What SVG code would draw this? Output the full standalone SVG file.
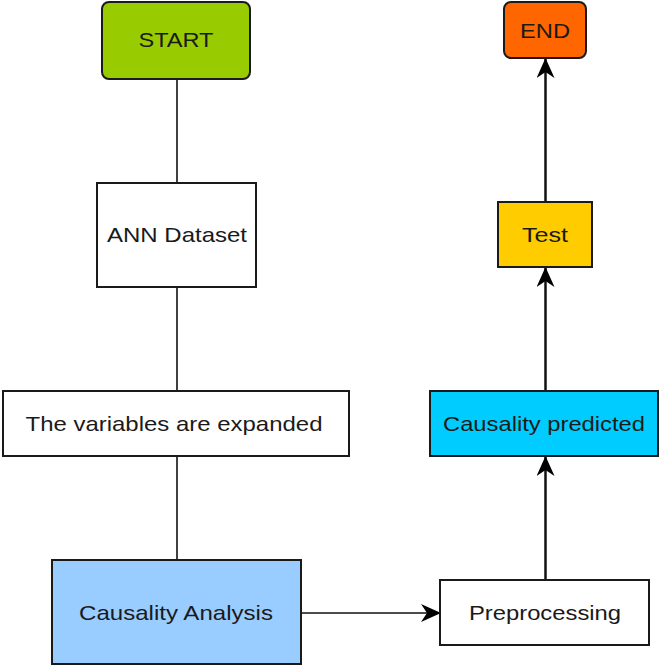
<svg xmlns="http://www.w3.org/2000/svg" width="661" height="667" viewBox="0 0 661 667">
<defs>
<style>
.box{stroke:#1a1a1a;stroke-width:2}
.lbl{font-family:"Liberation Sans",Arial,sans-serif;font-size:21px;fill:#1a1a1a;text-anchor:middle}
.ln{stroke:#111;fill:none}
</style>
<marker id="ah" markerUnits="userSpaceOnUse" markerWidth="20" markerHeight="18" refX="19" refY="9" orient="auto" viewBox="0 0 20 18">
<path d="M0,0 L20,9 L0,18 L6,9 Z" fill="#000"/>
</marker>
</defs>
<rect width="661" height="667" fill="#fff"/>
<g id="connectors">
<line class="ln" x1="177" y1="79" x2="177" y2="183" stroke-width="1.6"/>
<line class="ln" x1="177" y1="287" x2="177" y2="391" stroke-width="1.6"/>
<line class="ln" x1="177" y1="456" x2="177" y2="560" stroke-width="1.6"/>
<line class="ln" x1="301" y1="613" x2="440" y2="613" stroke-width="1.6" marker-end="url(#ah)"/>
<line class="ln" x1="545.5" y1="580" x2="545.5" y2="457" stroke-width="2.5" marker-end="url(#ah)"/>
<line class="ln" x1="545.5" y1="391" x2="545.5" y2="268" stroke-width="2.5" marker-end="url(#ah)"/>
<line class="ln" x1="545.5" y1="202" x2="545.5" y2="59" stroke-width="2.5" marker-end="url(#ah)"/>
</g>
<g id="start">
<rect class="box" x="102" y="2" width="148" height="77" rx="7" fill="#99cc00"/>
<text class="lbl" x="176" y="47" textLength="75" lengthAdjust="spacingAndGlyphs">START</text>
</g>
<g id="ann">
<rect class="box" x="97" y="183" width="159" height="104" fill="#fff"/>
<text class="lbl" x="177" y="242" textLength="140" lengthAdjust="spacingAndGlyphs">ANN Dataset</text>
</g>
<g id="variables">
<rect class="box" x="3" y="391" width="346" height="65" fill="#fff"/>
<text class="lbl" x="174" y="431" textLength="297" lengthAdjust="spacingAndGlyphs">The variables are expanded</text>
</g>
<g id="analysis">
<rect class="box" x="52" y="560" width="249" height="104" fill="#99ccff"/>
<text class="lbl" x="176" y="620" textLength="194" lengthAdjust="spacingAndGlyphs">Causality Analysis</text>
</g>
<g id="preprocessing">
<rect class="box" x="440" y="580" width="209" height="65" fill="#fff"/>
<text class="lbl" x="545" y="620" textLength="152" lengthAdjust="spacingAndGlyphs">Preprocessing</text>
</g>
<g id="predicted">
<rect class="box" x="430" y="391" width="228" height="65" fill="#00ccff"/>
<text class="lbl" x="544" y="431" textLength="202" lengthAdjust="spacingAndGlyphs">Causality predicted</text>
</g>
<g id="test">
<rect class="box" x="498" y="202" width="94" height="65" fill="#ffcc00"/>
<text class="lbl" x="545" y="242" textLength="46" lengthAdjust="spacingAndGlyphs">Test</text>
</g>
<g id="end">
<rect class="box" x="504" y="2" width="82" height="56" rx="7" fill="#ff6600"/>
<text class="lbl" x="545" y="38" textLength="50" lengthAdjust="spacingAndGlyphs">END</text>
</g>
</svg>
